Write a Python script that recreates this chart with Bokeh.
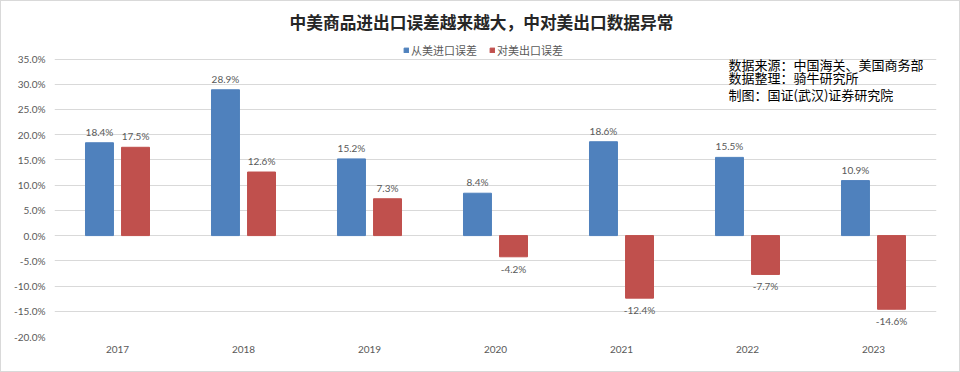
from bokeh.plotting import figure
from bokeh.models import (Range1d, FixedTicker, PrintfTickFormatter, ColumnDataSource,
                          LabelSet, Label, Legend, LegendItem)
from bokeh.core.properties import value
from bokeh.embed import file_html
from bokeh.resources import INLINE

years = ["2017", "2018", "2019", "2020", "2021", "2022", "2023"]
import_err = [18.4, 28.9, 15.2, 8.4, 18.6, 15.5, 10.9]   # 从美进口误差 (%)
export_err = [17.5, 12.6, 7.3, -4.2, -12.4, -7.7, -14.6]  # 对美出口误差 (%)
y_ticks = [-20, -15, -10, -5, 0, 5, 10, 15, 20, 25, 30, 35]

title_text = "中美商品进出口误差越来越大，中对美出口数据异常"
series_names = ["从美进口误差", "对美出口误差"]
note_lines = ["数据来源：中国海关、美国商务部", "数据整理：骑牛研究所", "制图：国证(武汉)证券研究院"]

BLUE = "#4F81BD"
RED = "#C0504D"
GRAY = "#595959"
CJK = "Noto Sans CJK SC"
NUM = "Lato"

W, H = 960, 372
FL, FW = 53, 882            # frame left / width (px)
Y_TOP_PX, Y_BOT_PX = 57.5, 335.0   # pixel rows of the top and bottom gridlines
PX_PER = (Y_BOT_PX - Y_TOP_PX) / (y_ticks[-1] - y_ticks[0])
FH = int(Y_BOT_PX)          # frame spans from the canvas top down to the bottom gridline
y_top = y_ticks[-1] + Y_TOP_PX / PX_PER

p = figure(width=W, height=H, output_backend="svg", toolbar_location=None, title=None,
           x_range=Range1d(0, len(years)), y_range=Range1d(y_ticks[0], y_top),
           min_border_left=FL, min_border_right=W - FL - FW,
           min_border_top=0, min_border_bottom=H - FH)
p.outline_line_color = None
p.background_fill_color = "white"
p.border_fill_color = "white"
p.styles = {"border": "1px solid #d9d9d9", "box-sizing": "border-box"}

xs = [i + 0.5 for i in range(len(years))]
off, bw = 0.143, 0.222
xb = [x - off for x in xs]
xr = [x + off for x in xs]

r1 = p.vbar(x=xb, top=import_err, bottom=0, width=bw, color=BLUE)
r2 = p.vbar(x=xr, top=export_err, bottom=0, width=bw, color=RED)

# axes
p.xaxis.ticker = FixedTicker(ticks=xs)
p.xaxis.major_label_overrides = {x: y for x, y in zip(xs, years)}
p.yaxis.ticker = FixedTicker(ticks=y_ticks)
p.yaxis.formatter = PrintfTickFormatter(format="%.1f%%")
for ax in (p.xaxis, p.yaxis):
    ax.axis_line_color = None
    ax.major_tick_line_color = None
    ax.minor_tick_line_color = None
    ax.major_tick_out = 0
    ax.major_tick_in = 0
    ax.minor_tick_out = 0
    ax.major_label_text_font = NUM
    ax.major_label_text_font_size = "10px"
    ax.major_label_text_color = GRAY
p.xaxis.major_label_standoff = 9
p.yaxis.major_label_standoff = 9
p.xgrid.grid_line_color = None
p.ygrid.ticker = FixedTicker(ticks=y_ticks)
p.ygrid.grid_line_color = "#d9d9d9"
p.ygrid.grid_line_width = 1

# value labels
def add_labels(xpos, vals):
    pos = ColumnDataSource(dict(x=[x for x, v in zip(xpos, vals) if v >= 0],
                                y=[v for v in vals if v >= 0],
                                t=["%.1f%%" % v for v in vals if v >= 0]))
    neg = ColumnDataSource(dict(x=[x for x, v in zip(xpos, vals) if v < 0],
                                y=[v for v in vals if v < 0],
                                t=["%.1f%%" % v for v in vals if v < 0]))
    p.add_layout(LabelSet(x="x", y="y", text="t", source=pos, y_offset=5,
                          text_align="center", text_baseline="bottom",
                          text_font=value(NUM), text_font_size=value("10px"), text_color=GRAY))
    p.add_layout(LabelSet(x="x", y="y", text="t", source=neg, y_offset=-6,
                          text_align="center", text_baseline="top",
                          text_font=value(NUM), text_font_size=value("10px"), text_color=GRAY))

add_labels(xb, import_err)
add_labels(xr, export_err)

# legend inside the (tall) frame, above the top gridline
legend = Legend(items=[LegendItem(label=series_names[0], renderers=[r1]),
                       LegendItem(label=series_names[1], renderers=[r2])],
                orientation="horizontal", location=(349, FH - 46 - 11),
                label_text_font=CJK, label_text_font_size="11px", label_text_color=GRAY,
                glyph_width=6, glyph_height=6, label_height=14, label_standoff=2,
                spacing=12, padding=4, margin=0, border_line_color=None,
                background_fill_alpha=0)
p.add_layout(legend, "center")

# reference pixel -> data
def dx(rx):
    return (rx - FL) / FW * len(years)

def dy(ry):
    return y_ticks[-1] - (ry - Y_TOP_PX) / PX_PER

p.add_layout(Label(x=dx(480), y=dy(20), text=title_text, text_align="center",
                   text_baseline="middle", text_font=CJK, text_font_style="bold",
                   text_font_size="16.7px", text_color="#262626"))

for line, ry in zip(note_lines, [63, 76, 93]):
    p.add_layout(Label(x=dx(727), y=dy(ry), text=line, text_align="left", text_baseline="middle",
                       text_font=CJK, text_font_size="13px", text_color="black"))

open("out.html", "w").write(file_html(p, INLINE))
